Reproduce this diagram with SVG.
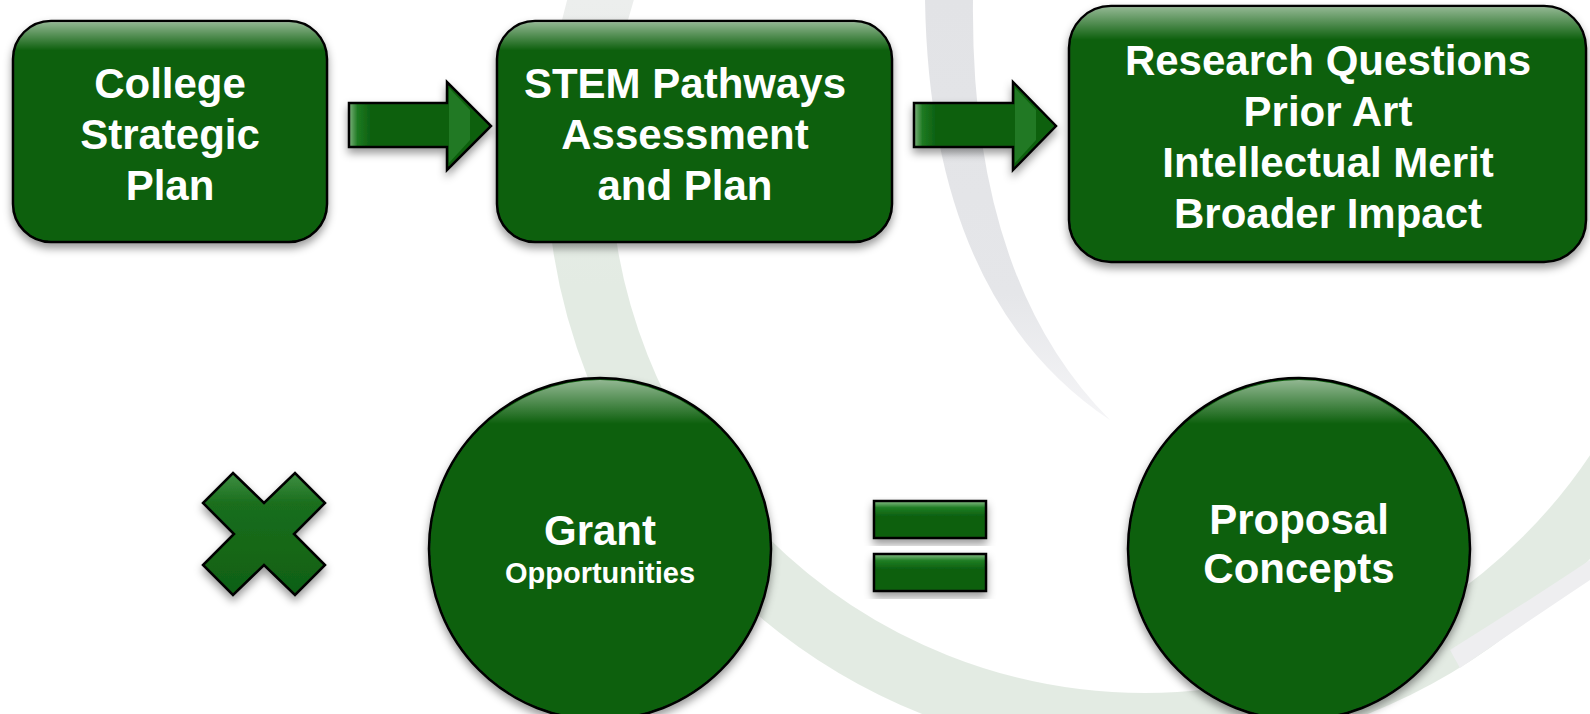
<svg xmlns="http://www.w3.org/2000/svg" width="1590" height="714" viewBox="0 0 1590 714">
<style>
.node{fill:#0e6111;stroke:#000;stroke-width:2.5}
.gloss{fill:url(#gloss);stroke:none}
.t{font-family:"Liberation Sans",Arial,sans-serif;font-weight:bold;fill:#fff;text-anchor:middle}
.big{font-size:42px}
.small{font-size:29px}
</style>
<defs>
<filter id="sh" x="-10%" y="-10%" width="120%" height="130%">
<feDropShadow dx="0" dy="5" stdDeviation="4" flood-color="#000" flood-opacity="0.4"/>
</filter>
<linearGradient id="gloss" x1="0" y1="0" x2="0" y2="1">
<stop offset="0" stop-color="#fff" stop-opacity="0.55"/>
<stop offset="0.13" stop-color="#fff" stop-opacity="0"/>
<stop offset="1" stop-color="#fff" stop-opacity="0"/>
</linearGradient>
<linearGradient id="arrowg" x1="0" y1="0" x2="1" y2="0">
<stop offset="0" stop-color="#7fb27f"/>
<stop offset="0.06" stop-color="#1d7a21"/>
<stop offset="0.15" stop-color="#0e6111"/>
<stop offset="1" stop-color="#0e6111"/>
</linearGradient>
<linearGradient id="barg" x1="0" y1="0" x2="0" y2="1">
<stop offset="0" stop-color="#8cc08c"/>
<stop offset="0.18" stop-color="#1f7d23"/>
<stop offset="0.4" stop-color="#0e6111"/>
<stop offset="1" stop-color="#0e6111"/>
</linearGradient>
<linearGradient id="xg" x1="0" y1="0" x2="0" y2="1">
<stop offset="0" stop-color="#3f8f43"/>
<stop offset="0.25" stop-color="#1a6e1d"/>
<stop offset="1" stop-color="#0f6012"/>
</linearGradient>
<linearGradient id="cres" x1="0" y1="0" x2="0" y2="1">
<stop offset="0" stop-color="#e2e3e6"/>
<stop offset="0.7" stop-color="#e5e6e9"/>
<stop offset="1" stop-color="#f5f5f7"/>
</linearGradient>
<linearGradient id="ringg" gradientUnits="userSpaceOnUse" x1="0" y1="0" x2="0" y2="714">
<stop offset="0" stop-color="#eceeed"/>
<stop offset="0.4" stop-color="#e3ebe3"/>
<stop offset="1" stop-color="#e3ebe3"/>
</linearGradient>
</defs>

<rect x="0" y="0" width="1590" height="714" fill="#fff"/>
<g id="background">
<circle cx="1145" cy="158" r="567" fill="none" stroke="url(#ringg)" stroke-width="64"/>
<path d="M 925 0 Q 930 300 1110 420 Q 970 280 973 0 Z" fill="url(#cres)"/>
<path d="M 1450 650 Q 1530 600 1590 560 L 1590 580 Q 1530 620 1460 668 Z" fill="#eeeef0"/>
</g>

<g id="connectors">
<polygon points="349,103 447,103 447,82 491,126 447,170 447,147 349,147" fill="url(#arrowg)" stroke="#000" stroke-width="2.5" stroke-linejoin="miter" filter="url(#sh)"/>
<polygon points="914,103 1013,103 1013,82 1056,126 1013,170 1013,147 914,147" fill="url(#arrowg)" stroke="#000" stroke-width="2.5" stroke-linejoin="miter" filter="url(#sh)"/>
<polygon points="449,88 470,110 470,140 449,163" fill="#2f8a33" opacity="0.6"/>
<polygon points="1015,88 1036,110 1036,140 1015,163" fill="#2f8a33" opacity="0.6"/>
</g>

<g id="box1">
<rect class="node" x="13" y="21" width="314" height="221" rx="38" filter="url(#sh)"/>
<rect class="gloss" x="14" y="22" width="312" height="219" rx="37"/>
<text class="t big" x="170" y="98">College</text>
<text class="t big" x="170" y="149">Strategic</text>
<text class="t big" x="170" y="200">Plan</text>
</g>

<g id="box2">
<rect class="node" x="497" y="21" width="395" height="221" rx="38" filter="url(#sh)"/>
<rect class="gloss" x="498" y="22" width="393" height="219" rx="37"/>
<text class="t big" x="685" y="98">STEM Pathways</text>
<text class="t big" x="685" y="149">Assessment</text>
<text class="t big" x="685" y="200">and Plan</text>
</g>

<g id="box3">
<rect class="node" x="1069" y="6" width="517" height="256" rx="42" filter="url(#sh)"/>
<rect class="gloss" x="1070" y="7" width="515" height="254" rx="41"/>
<text class="t big" x="1328" y="75">Research Questions</text>
<text class="t big" x="1328" y="126">Prior Art</text>
<text class="t big" x="1328" y="177">Intellectual Merit</text>
<text class="t big" x="1328" y="228">Broader Impact</text>
</g>

<g id="times">
<polygon points="233,473 264,503 295,473 325,503 294,534 325,565 295,595 264,565 233,595 203,565 234,534 203,503" fill="url(#xg)" stroke="#000" stroke-width="2.5" stroke-linejoin="miter" filter="url(#sh)"/>
</g>

<g id="grant">
<circle class="node" cx="600" cy="549" r="171" filter="url(#sh)"/>
<circle class="gloss" cx="600" cy="549" r="169"/>
<text class="t big" x="600" y="545">Grant</text>
<text class="t small" x="600" y="583">Opportunities</text>
</g>

<g id="equals">
<rect x="874" y="501" width="112" height="37" fill="url(#barg)" stroke="#000" stroke-width="2.5" filter="url(#sh)"/>
<rect x="874" y="554" width="112" height="37" fill="url(#barg)" stroke="#000" stroke-width="2.5" filter="url(#sh)"/>
</g>

<g id="proposal">
<circle class="node" cx="1299" cy="549" r="171" filter="url(#sh)"/>
<circle class="gloss" cx="1299" cy="549" r="169"/>
<text class="t big" x="1299" y="534">Proposal</text>
<text class="t big" x="1299" y="583">Concepts</text>
</g>
</svg>
